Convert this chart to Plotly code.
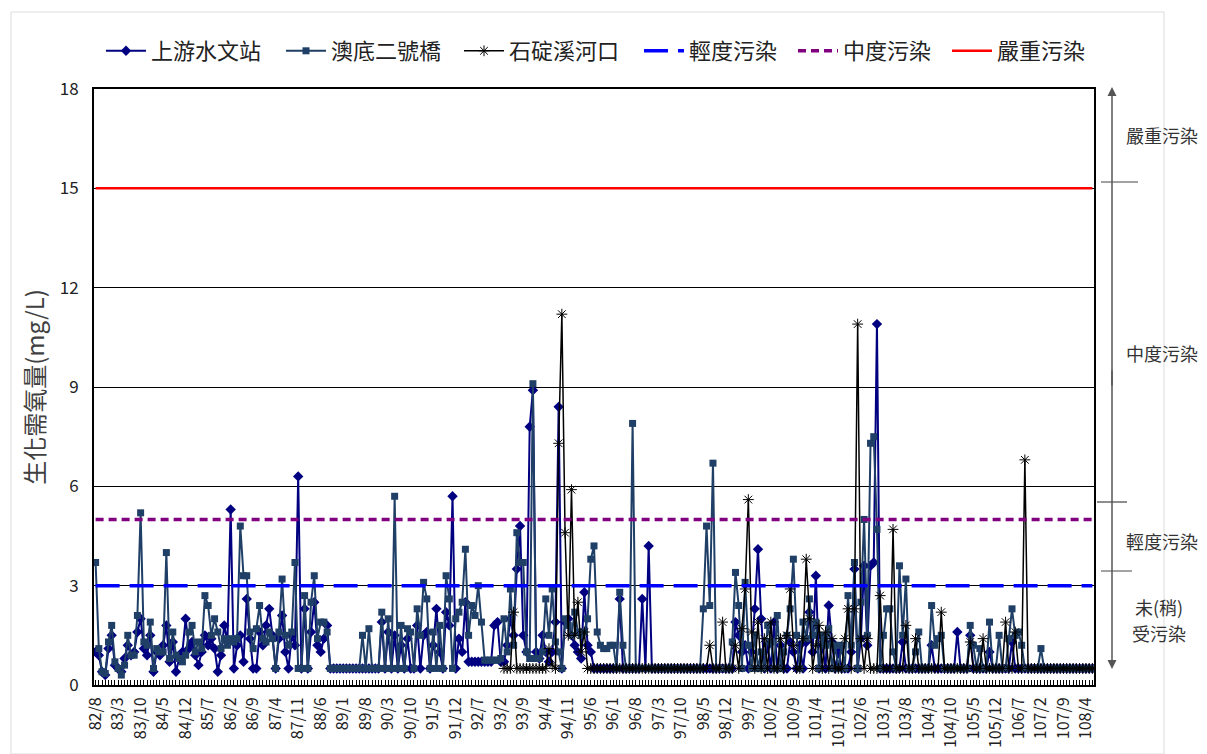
import plotly.graph_objects as go

# ---------------- categories (monthly, ROC year/month) ----------------
start_year, start_month, n_months = 82, 8, 311
months = []
y, m = start_year, start_month
for _ in range(n_months):
    months.append(f"{y}/{m}")
    m += 1
    if m > 12:
        m = 1
        y += 1
tick_every = 7
tick_text = [lab if i % tick_every == 0 else "" for i, lab in enumerate(months)]

# ---------------- series values (mg/L) ----------------
upstream = [  # 上游水文站
    1.0, 0.9, 0.4, 0.3, 1.1, 1.5, 0.6, 0.5, 0.4, 0.8,
    1.2, 0.9, 1.0, 1.6, 2.0, 1.1, 0.9, 1.5, 0.4, 1.0,
    0.9, 1.2, 1.8, 0.7, 1.3, 0.4, 0.8, 1.0, 2.0, 1.1,
    1.3, 0.9, 0.6, 1.0, 1.5, 1.2, 1.4, 1.1, 0.4, 0.9,
    1.8, 1.3, 5.3, 0.5, 1.2, 1.5, 0.7, 2.6, 1.4, 0.5,
    0.5, 1.6, 1.2, 1.8, 2.3, 1.5, 0.5, 1.4, 2.1, 1.0,
    0.5, 1.5, 1.2, 6.3, 0.5, 2.3, 0.5, 1.6, 2.5, 1.2,
    1.0, 1.4, 1.8, 0.5, 0.5, 0.5, 0.5, 0.5, 0.5, 0.5,
    0.5, 0.5, 0.5, 0.5, 0.5, 0.5, 0.5, 0.5, 0.5, 1.9,
    0.5, 1.6, 0.5, 1.5, 0.5, 1.2, 0.5, 1.4, 0.5, 0.5,
    1.8, 0.5, 1.5, 1.6, 0.5, 1.2, 2.3, 1.0, 0.5, 2.2,
    1.8, 5.7, 0.5, 1.4, 1.0, 2.5, 0.7, 0.7, 0.7, 0.7,
    0.7, 0.7, 0.7, 0.7, 1.8, 1.9, 0.7, 0.7, 1.2, 2.0,
    1.5, 3.5, 4.8, 1.5, 1.0, 7.8, 8.9, 1.0, 0.8, 1.5,
    1.0, 0.7, 1.0, 1.9, 8.4, 0.5, 1.9, 2.0, 1.5, 1.2,
    1.0, 0.8, 2.8, 1.2, 1.0, 0.5, 0.5, 0.5, 0.5, 0.5,
    0.5, 0.5, 0.5, 2.6, 0.5, 0.5, 0.5, 0.5, 0.5, 0.5,
    2.6, 0.5, 4.2, 0.5, 0.5, 0.5, 0.5, 0.5, 0.5, 0.5,
    0.5, 0.5, 0.5, 0.5, 0.5, 0.5, 0.5, 0.5, 0.5, 0.5,
    0.5, 0.5, 0.5, 0.5, 0.5, 0.5, 0.5, 0.5, 0.5, 1.9,
    1.5, 1.0, 1.2, 0.5, 1.0, 2.3, 4.1, 2.0, 0.5, 1.2,
    0.5, 1.9, 0.5, 1.2, 0.5, 0.5, 1.3, 1.0, 0.5, 1.2,
    0.5, 1.3, 2.2, 1.0, 3.3, 0.5, 1.2, 0.5, 2.4, 1.3,
    0.5, 1.0, 0.5, 0.5, 0.5, 1.0, 3.5, 0.5, 1.4, 3.6,
    1.2, 3.6, 3.7, 10.9, 0.5, 0.5, 0.5, 0.5, 0.5, 0.5,
    0.5, 1.3, 0.5, 0.5, 0.5, 0.5, 0.5, 0.5, 0.5, 0.5,
    1.2, 0.5, 0.5, 0.5, 0.5, 0.5, 0.5, 0.5, 1.6, 0.5,
    0.5, 0.5, 1.5, 0.5, 0.5, 0.5, 0.5, 0.5, 1.0, 0.5,
    0.5, 0.5, 0.5, 0.5, 0.5, 1.3, 0.5, 0.5, 0.5, 0.5,
    0.5, 0.5, 0.5, 0.5, 0.5, 0.5, 0.5, 0.5, 0.5, 0.5,
    0.5, 0.5, 0.5, 0.5, 0.5, 0.5, 0.5, 0.5, 0.5, 0.5,
    0.5,
]

aodi = [  # 澳底二號橋
    3.7, 1.1, 0.4, 0.35, 1.3, 1.8, 0.7, 0.5, 0.3, 0.6,
    1.5, 0.9, 0.9, 2.1, 5.2, 1.3, 1.2, 1.9, 0.5, 1.1,
    1.0, 1.0, 4.0, 0.8, 1.6, 0.9, 0.8, 0.7, 0.9, 1.6,
    1.8, 1.0, 1.3, 1.1, 2.7, 2.4, 1.5, 2.0, 1.6, 1.1,
    1.4, 1.2, 1.4, 1.3, 1.4, 4.8, 3.3, 3.3, 1.6, 1.1,
    1.7, 2.4, 1.4, 1.3, 1.6, 1.4, 0.5, 1.6, 3.2, 1.5,
    1.2, 1.6, 3.7, 0.5, 0.5, 2.7, 0.5, 2.5, 3.3, 1.4,
    1.9, 1.9, 1.6, 0.5, 0.5, 0.5, 0.5, 0.5, 0.5, 0.5,
    0.5, 0.5, 0.5, 1.5, 0.5, 1.7, 0.5, 0.5, 0.5, 2.2,
    0.5, 2.0, 0.5, 5.7, 0.5, 1.8, 0.5, 1.7, 1.6, 0.5,
    2.3, 1.5, 3.1, 2.6, 0.5, 1.6, 0.5, 1.8, 0.5, 3.3,
    2.6, 0.5, 2.0, 2.2, 2.5, 4.1, 1.5, 2.4, 2.1, 3.0,
    1.9, 0.75, 0.75, 0.75, 0.75, 0.75, 0.8, 2.0, 1.0, 2.9,
    1.2, 4.6, 3.7, 3.7, 1.0, 0.8, 9.1, 0.8, 0.8, 1.0,
    2.6, 1.5, 2.9, 1.3, 1.0, 0.5, 2.0, 1.8, 1.5, 2.2,
    1.6, 1.5, 1.6, 2.0, 3.8, 4.2, 1.6, 1.2, 1.1, 1.1,
    1.2, 1.2, 0.5, 2.8, 1.2, 0.5, 0.5, 7.9, 0.5, 0.5,
    0.5, 0.5, 0.5, 0.5, 0.5, 0.5, 0.5, 0.5, 0.5, 0.5,
    0.5, 0.5, 0.5, 0.5, 0.5, 0.5, 0.5, 0.5, 0.5, 2.3,
    4.8, 2.4, 6.7, 0.5, 0.5, 0.5, 0.5, 0.5, 1.3, 3.4,
    2.4, 0.5, 3.1, 1.2, 0.5, 1.5, 0.5, 1.0, 0.5, 1.8,
    1.3, 0.5, 2.1, 0.5, 1.0, 1.5, 2.3, 3.8, 1.5, 0.5,
    1.9, 1.4, 2.6, 1.5, 1.9, 0.5, 1.5, 1.2, 1.7, 0.5,
    1.2, 0.5, 1.2, 0.5, 2.7, 1.2, 3.7, 0.5, 2.5, 5.0,
    1.5, 7.3, 7.5, 4.7, 0.5, 1.5, 2.3, 2.3, 1.0, 0.5,
    3.6, 1.5, 3.2, 0.5, 0.5, 1.0, 1.6, 0.5, 0.5, 0.5,
    2.4, 1.2, 1.4, 1.5, 0.5, 0.5, 0.5, 0.5, 0.5, 0.5,
    0.5, 0.5, 1.8, 1.2, 0.5, 1.1, 0.5, 0.5, 1.9, 0.5,
    0.5, 1.5, 0.5, 0.5, 1.4, 2.3, 1.5, 1.6, 1.2, 0.5,
    0.5, 0.5, 0.5, 0.5, 1.1, 0.5, 0.5, 0.5, 0.5, 0.5,
    0.5, 0.5, 0.5, 0.5, 0.5, 0.5, 0.5, 0.5, 0.5, 0.5,
    0.5,
]

shiding = [  # 石碇溪河口 (no data before 93/3)
    None, None, None, None, None, None, None, None, None, None,
    None, None, None, None, None, None, None, None, None, None,
    None, None, None, None, None, None, None, None, None, None,
    None, None, None, None, None, None, None, None, None, None,
    None, None, None, None, None, None, None, None, None, None,
    None, None, None, None, None, None, None, None, None, None,
    None, None, None, None, None, None, None, None, None, None,
    None, None, None, None, None, None, None, None, None, None,
    None, None, None, None, None, None, None, None, None, None,
    None, None, None, None, None, None, None, None, None, None,
    None, None, None, None, None, None, None, None, None, None,
    None, None, None, None, None, None, None, None, None, None,
    None, None, None, None, None, None, None, 0.5, 0.5, 0.5,
    2.2, 0.5, 0.5, 0.5, 0.5, 0.5, 0.5, 0.5, 0.5, 0.5,
    0.5, 1.1, 0.6, 0.5, 7.3, 11.2, 4.6, 1.5, 5.9, 1.5,
    2.5, 1.0, 1.6, 0.5, 0.5, 0.5, 0.5, 0.5, 0.5, 0.5,
    0.5, 0.5, 0.5, 0.5, 0.5, 0.5, 0.5, 0.5, 0.5, 0.5,
    0.5, 0.5, 0.5, 0.5, 0.5, 0.5, 0.5, 0.5, 0.5, 0.5,
    0.5, 0.5, 0.5, 0.5, 0.5, 0.5, 0.5, 0.5, 0.5, 0.5,
    0.5, 1.2, 0.5, 0.5, 0.5, 1.9, 0.5, 0.5, 0.5, 1.2,
    0.5, 1.7, 2.9, 5.6, 1.6, 0.5, 1.9, 0.5, 1.4, 0.5,
    1.9, 0.5, 0.5, 1.4, 0.5, 1.5, 2.9, 1.2, 0.5, 0.5,
    1.4, 3.8, 2.0, 0.5, 1.2, 1.8, 0.5, 1.6, 0.5, 1.4,
    0.5, 0.5, 0.5, 1.4, 2.3, 0.5, 2.3, 10.9, 1.4, 0.5,
    1.4, 0.5, 0.5, 0.5, 2.7, 0.5, 0.5, 0.5, 4.7, 0.5,
    0.5, 0.5, 1.8, 0.5, 0.5, 1.4, 0.5, 0.5, 0.5, 0.5,
    0.5, 0.5, 0.5, 2.2, 0.5, 0.5, 0.5, 0.5, 0.5, 0.5,
    0.5, 0.5, 1.3, 0.5, 0.5, 0.5, 1.4, 0.5, 0.5, 0.5,
    0.5, 0.5, 0.5, 1.9, 0.5, 0.5, 1.6, 0.5, 0.5, 6.8,
    0.5, 0.5, 0.5, 0.5, 0.5, 0.5, 0.5, 0.5, 0.5, 0.5,
    0.5, 0.5, 0.5, 0.5, 0.5, 0.5, 0.5, 0.5, 0.5, 0.5,
    0.5,
]

# pollution thresholds (mg/L)
light_level = 3
moderate_level = 5
severe_level = 15

# right-side classification labels
class_labels = ["嚴重污染", "中度污染", "輕度污染", "未(稍)", "受污染"]

assert len(upstream) == len(aodi) == len(shiding) == n_months

# ---------------- figure ----------------
FONT = "Noto Sans CJK TC, Noto Sans CJK JP, sans-serif"
W, H = 1207, 754
PW, PH = 1000, 596          # plot area size
PL, PT = 93, 88             # wanted plot-area corner in the screenshot
OFF = 7                     # page offset of the figure in the browser
L, T = PL - OFF, PT - OFF
R, B = W - L - PW, H - T - PH


def px(x):
    return (x - PL) / PW


def py(yy):
    return (PT + PH - yy) / PH


fig = go.Figure()

fig.add_trace(go.Scatter(
    x=months, y=upstream, name="上游水文站", mode="lines+markers", legend="legend",
    line=dict(color="#000080", width=2),
    marker=dict(symbol="diamond", size=8, color="#000080"),
))
fig.add_trace(go.Scatter(
    x=months, y=aodi, name="澳底二號橋", mode="lines+markers", legend="legend2",
    line=dict(color="#1f3f66", width=2),
    marker=dict(symbol="square", size=7, color="#1f3f66"),
))
fig.add_trace(go.Scatter(
    x=months, y=shiding, name="石碇溪河口", mode="lines+markers", legend="legend3",
    line=dict(color="#000000", width=1.5),
    marker=dict(symbol="asterisk-open", size=9, color="#000000",
                line=dict(color="#000000", width=1)),
))
fig.add_trace(go.Scatter(
    x=months, y=[light_level] * n_months, name="輕度污染", mode="lines",
    legend="legend4",
    line=dict(color="#0000ff", width=3.5, dash="24px,10px"), hoverinfo="skip",
))
fig.add_trace(go.Scatter(
    x=months, y=[moderate_level] * n_months, name="中度污染", mode="lines",
    legend="legend5",
    line=dict(color="#800080", width=3.5, dash="8px,5px"), hoverinfo="skip",
))
fig.add_trace(go.Scatter(
    x=months, y=[severe_level] * n_months, name="嚴重污染", mode="lines",
    legend="legend6",
    line=dict(color="#ff0000", width=2.5), hoverinfo="skip",
))

# legends placed individually (symbol start x in screenshot pixels)
legend_starts = [105, 285, 463, 643, 797, 951]
legend_cfg = {}
for k, sx in enumerate(legend_starts):
    key = "legend" if k == 0 else f"legend{k + 1}"
    legend_cfg[key] = dict(
        orientation="h", x=px(sx - 5), y=py(50), xanchor="left", yanchor="middle",
        font=dict(family=FONT, size=22, color="#222222"),
        bgcolor="rgba(0,0,0,0)", itemwidth=40,
    )

# right-hand classification scale
annotations = [
    dict(x=px(1111), y=py(86), xref="paper", yref="paper", ax=0, ay=300,
         axref="pixel", ayref="pixel", text="", showarrow=True,
         arrowhead=2, arrowsize=1.2, arrowwidth=1.5, arrowcolor="#555555"),
    dict(x=px(1111), y=py(668), xref="paper", yref="paper", ax=0, ay=-300,
         axref="pixel", ayref="pixel", text="", showarrow=True,
         arrowhead=2, arrowsize=1.2, arrowwidth=1.5, arrowcolor="#555555"),
]
label_pos = [(1161, 134), (1161, 352), (1161, 540), (1158, 606), (1158, 632)]
for lab, (lx, ly) in zip(class_labels, label_pos):
    annotations.append(dict(
        x=px(lx), y=py(ly), xref="paper", yref="paper", text=lab,
        showarrow=False, font=dict(family=FONT, size=18, color="#333333"),
        xanchor="center", yanchor="middle", align="center"))

shapes = [
    dict(type="rect", xref="paper", yref="paper", x0=px(10), x1=px(1163),
         y0=py(753), y1=py(11), line=dict(color="#dcdcdc", width=1), layer="below"),
    dict(type="line", xref="paper", yref="paper", x0=px(1100), x1=px(1137),
         y0=py(181), y1=py(181), line=dict(color="#444444", width=1.2)),
    dict(type="line", xref="paper", yref="paper", x0=px(1096), x1=px(1126),
         y0=py(501), y1=py(501), line=dict(color="#444444", width=1.2)),
    dict(type="line", xref="paper", yref="paper", x0=px(1100), x1=px(1131),
         y0=py(570), y1=py(570), line=dict(color="#666666", width=1.2)),
]

fig.update_layout(
    width=W, height=H,
    margin=dict(l=L, r=R, t=T, b=B),
    paper_bgcolor="white", plot_bgcolor="white",
    font=dict(family=FONT, color="#222222"),
    showlegend=True,
    annotations=annotations,
    shapes=shapes,
    **legend_cfg,
)

fig.update_xaxes(
    type="category", categoryorder="array", categoryarray=months,
    range=[-0.5, n_months - 0.5],
    tickmode="array", tickvals=months, ticktext=tick_text,
    tickangle=-90, tickfont=dict(family=FONT, size=16, color="#222222"),
    ticklabelstandoff=4,
    ticks="inside", ticklen=5, tickwidth=1, tickcolor="#000000",
    showline=True, linecolor="#000000", linewidth=2, mirror=True,
    showgrid=False, zeroline=False,
)
fig.update_yaxes(
    range=[0, 18], tickmode="linear", tick0=0, dtick=3,
    tickfont=dict(family=FONT, size=17, color="#222222"),
    ticklabelstandoff=10,
    showgrid=True, gridcolor="#000000", gridwidth=1,
    showline=True, linecolor="#000000", linewidth=2, mirror=True,
    ticks="", zeroline=False,
    title=dict(text="生化需氧量(mg/L)", font=dict(family=FONT, size=24, color="#404040"),
               standoff=8),
)

fig.write_html("out.html")
